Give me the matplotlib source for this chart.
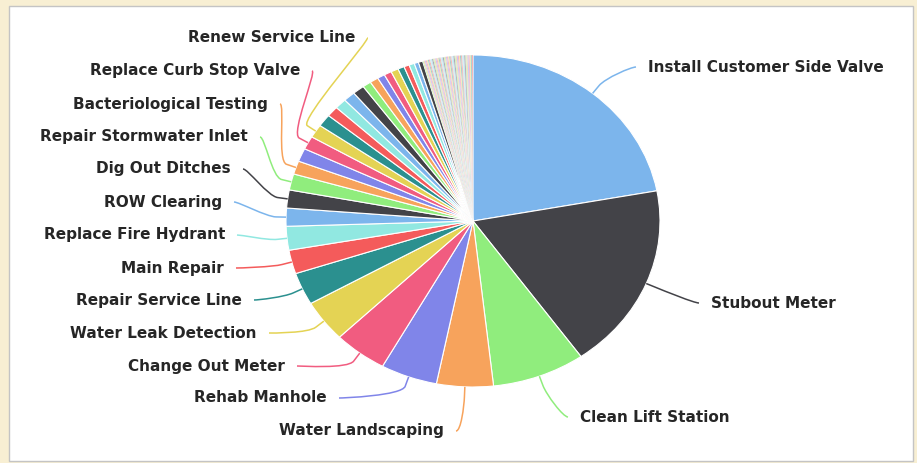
import numpy as np
import matplotlib.pyplot as plt
from matplotlib.path import Path
from matplotlib.patches import PathPatch, Rectangle

W, H = 917, 463

# work order types, largest first (counts)
names = ['Install Customer Side Valve', 'Stubout Meter', 'Clean Lift Station',
         'Water Landscaping', 'Rehab Manhole', 'Change Out Meter',
         'Water Leak Detection', 'Repair Service Line', 'Main Repair',
         'Replace Fire Hydrant', 'ROW Clearing', 'Dig Out Ditches',
         'Repair Stormwater Inlet', 'Bacteriological Testing', '',
         'Replace Curb Stop Valve', 'Renew Service Line']
counts = [239, 196, 87, 53, 53, 50, 44, 34, 25, 25, 19, 19, 17, 14, 14, 14, 14,
          13, 11, 11, 11, 11, 8, 8, 7, 7, 7, 6, 5, 5, 4, 4] + [1] * 47
names = names + [''] * (len(counts) - len(names))

# highcharts default palette
palette = ['#7cb5ec', '#434348', '#90ed7d', '#f7a35c', '#8085e9',
           '#f15c80', '#e4d354', '#2b908f', '#f45b5b', '#91e8e1']
colors = [palette[i % len(palette)] for i in range(len(counts))]

# where the visible labels sit (pixel x of the text edge, y centre, side)
label_pos = {
    'Install Customer Side Valve': (648, 67, 'left'),
    'Stubout Meter': (711, 303, 'left'),
    'Clean Lift Station': (580, 417, 'left'),
    'Water Landscaping': (444, 431, 'right'),
    'Rehab Manhole': (327, 398, 'right'),
    'Change Out Meter': (285, 366, 'right'),
    'Water Leak Detection': (257, 333, 'right'),
    'Repair Service Line': (242, 300, 'right'),
    'Main Repair': (224, 268, 'right'),
    'Replace Fire Hydrant': (225, 235, 'right'),
    'ROW Clearing': (222, 202, 'right'),
    'Dig Out Ditches': (231, 169, 'right'),
    'Repair Stormwater Inlet': (248, 137, 'right'),
    'Bacteriological Testing': (268, 104, 'right'),
    'Replace Curb Stop Valve': (300, 71, 'right'),
    'Renew Service Line': (355, 38, 'right'),
}

# pie centre / radii in pixels (screenshot is stretched sideways)
cx, cy, rx, ry = 473, 221, 187, 166

fig = plt.figure(figsize=(W / 100, H / 100), dpi=100, facecolor='#f8efd3')
panel = Rectangle((9 / W, 2 / H), 904 / W, 455 / H, transform=fig.transFigure,
                  fc='white', ec='#c4c4c4', lw=1, zorder=-1)
fig.add_artist(panel)

ax = fig.add_axes([0, 0, 1, 1])
wedges, _ = ax.pie(counts, colors=colors, startangle=90, counterclock=False,
                   wedgeprops=dict(edgecolor='white', linewidth=0.8))
# the tiny tail slices only show as faint stripes
for w, c in zip(wedges, counts):
    if c < 2:
        w.set_linewidth(0.3)
        w.set_alpha(0.6)
ax.set_aspect('auto')
ax.set_xlim(-cx / rx, (W - cx) / rx)
ax.set_ylim((cy - H) / ry, cy / ry)
ax.set_axis_off()

ax2 = fig.add_axes([0, 0, 1, 1])
ax2.set_xlim(0, W)
ax2.set_ylim(H, 0)
ax2.set_axis_off()

# fit font size to the width of the longest label
renderer = fig.canvas.get_renderer()
probe = ax2.text(0, 0, 'Install Customer Side Valve', fontsize=10, fontweight='bold')
fs = 10 * 236 / probe.get_window_extent(renderer).width
probe.remove()

total = sum(counts)
cum = np.cumsum([0] + counts)
for i, name in enumerate(names):
    if name not in label_pos:
        continue
    lx, ly, ha = label_pos[name]
    theta = np.radians(360 * (cum[i] + counts[i] / 2) / total)
    ux, uy = np.sin(theta), -np.cos(theta)
    ex, ey = cx + rx * ux, cy + ry * uy
    bx, by = ex + 10 * ux, ey + 10 * uy
    d = 1 if ha == 'right' else -1
    sx = lx + 12 * d
    verts = [(sx, ly), (sx + 5 * d, ly), (2 * bx - ex, 2 * by - ey), (bx, by), (ex, ey)]
    codes = [Path.MOVETO, Path.CURVE4, Path.CURVE4, Path.CURVE4, Path.LINETO]
    ax2.add_patch(PathPatch(Path(verts, codes), fc='none', ec=colors[i], lw=1.1))
    ax2.text(lx, ly, name, ha=ha, va='center', fontsize=fs, fontweight='bold',
             color='#262626')

fig.savefig('out.png', dpi=100, facecolor=fig.get_facecolor())
